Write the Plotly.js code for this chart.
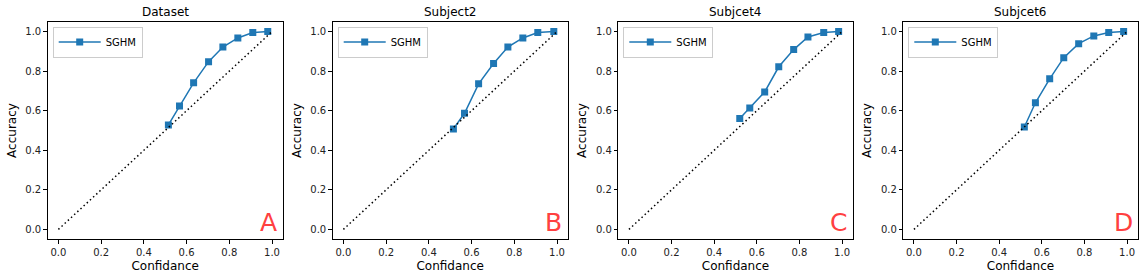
<!DOCTYPE html>
<html>
<head>
<meta charset="utf-8">
<script src="https://cdn.plot.ly/plotly-3.0.1.min.js"></script>
<style>html,body{margin:0;padding:0;background:#fff;}#chart{width:1144px;height:280px;}</style>
</head>
<body>
<div id="chart"></div>
<script>
const panelTitles = ["Dataset", "Subject2", "Subjcet4", "Subjcet6"];
const panelLetters = ["A", "B", "C", "D"];
const seriesName = "SGHM";

const confA = [0.515, 0.567, 0.633, 0.703, 0.770, 0.840, 0.910, 0.980];
const accA  = [0.528, 0.624, 0.741, 0.848, 0.922, 0.968, 0.995, 1.000];

const confB = [0.515, 0.567, 0.633, 0.703, 0.770, 0.840, 0.910, 0.985];
const accB  = [0.508, 0.587, 0.736, 0.839, 0.922, 0.968, 0.995, 1.000];

const confC = [0.520, 0.567, 0.637, 0.703, 0.773, 0.840, 0.914, 0.984];
const accC  = [0.561, 0.614, 0.695, 0.822, 0.909, 0.973, 0.995, 1.000];

const confD = [0.518, 0.570, 0.637, 0.703, 0.773, 0.844, 0.914, 0.984];
const accD  = [0.518, 0.640, 0.761, 0.868, 0.939, 0.978, 0.995, 1.000];

const diagX = [0, 1];
const diagY = [0, 1];

const xTicks = [0, 0.2, 0.4, 0.6, 0.8, 1.0];
const xTickText = ["0.0", "0.2", "0.4", "0.6", "0.8", "1.0"];

const confs = [confA, confB, confC, confD];
const accs = [accA, accB, accC, accD];

const W = 1144, H = 280;
const boxesPx = [[47.7, 282.7], [332.7, 567.7], [618.3, 852.7], [903.3, 1137.7]];
const yDom = [1 - 239.3 / H, 1 - 21.7 / H];

const FONT = "DejaVu Sans, sans-serif";
const traces = [];
const layout = {
  width: W, height: H,
  margin: {l: 0, r: 0, t: 0, b: 0},
  paper_bgcolor: "#ffffff", plot_bgcolor: "#ffffff",
  font: {family: FONT, size: 10, color: "#000"},
  annotations: [],
  showlegend: true
};

for (let i = 0; i < 4; i++) {
  const s = i === 0 ? "" : String(i + 1);
  const xa = "x" + s, ya = "y" + s;
  const dom = [boxesPx[i][0] / W, boxesPx[i][1] / W];
  traces.push({
    x: confs[i], y: accs[i], xaxis: xa, yaxis: ya,
    type: "scatter", mode: "lines+markers", name: seriesName,
    line: {color: "#1f77b4", width: 1.5},
    marker: {symbol: "square", size: 7, color: "#1f77b4"},
    legend: i === 0 ? "legend" : "legend" + (i + 1)
  });
  traces.push({
    x: diagX, y: diagY, xaxis: xa, yaxis: ya,
    type: "scatter", mode: "lines", showlegend: false, hoverinfo: "skip",
    line: {color: "#000", width: 1.5, dash: "1.5px,2.8px"}
  });
  const axBase = {
    showline: true, mirror: true, linecolor: "#000", linewidth: 1,
    showgrid: false, zeroline: false,
    ticks: "outside", ticklen: 3.5, tickwidth: 1, tickcolor: "#000",
    tickfont: {family: FONT, size: 10, color: "#222"}
  };
  layout["xaxis" + s] = Object.assign({}, axBase, {
    domain: dom, anchor: ya, range: [-0.05, 1.05],
    tickvals: xTicks, ticktext: xTickText,
    title: {text: "Confidance", font: {family: FONT, size: 12, color: "#000"}, standoff: 4}
  });
  layout["yaxis" + s] = Object.assign({}, axBase, {
    domain: yDom, anchor: xa, range: [-0.05, 1.05],
    tickvals: xTicks, ticktext: xTickText,
    title: {text: "Accuracy", font: {family: FONT, size: 12, color: "#000"}, standoff: 6}
  });
  layout[i === 0 ? "legend" : "legend" + (i + 1)] = {
    x: (boxesPx[i][0] + 5) / W, y: 1 - 26.5 / H, xanchor: "left", yanchor: "top",
    xref: "paper", yref: "paper",
    bgcolor: "rgba(255,255,255,0.8)", bordercolor: "#cccccc", borderwidth: 1,
    font: {family: FONT, size: 10, color: "#000"}, itemwidth: 42,
    tracegroupgap: 0
  };
  layout.annotations.push({
    text: panelTitles[i], xref: "paper", yref: "paper",
    x: (dom[0] + dom[1]) / 2, y: 1 - 12.5 / H, xanchor: "center", yanchor: "middle",
    showarrow: false, font: {family: FONT, size: 12, color: "#000"}
  });
  layout.annotations.push({
    text: panelLetters[i], xref: xa, yref: ya,
    x: 0.983, y: 0.035, xanchor: "center", yanchor: "middle",
    showarrow: false, font: {family: FONT, size: 25, color: "#ff4040"}
  });
}

Plotly.newPlot("chart", traces, layout, {displayModeBar: false, staticPlot: true});
</script>
</body>
</html>
